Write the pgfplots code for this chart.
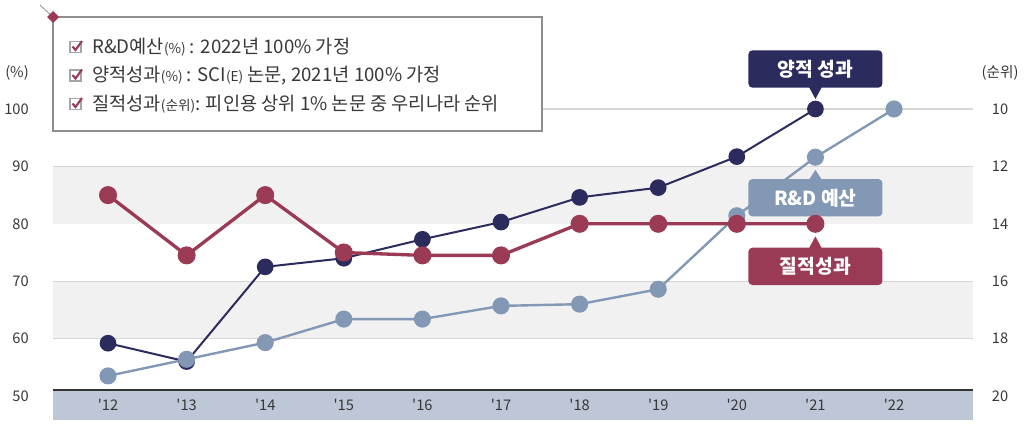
\documentclass[border=0pt]{standalone}
\usepackage{fontspec}
\setmainfont{Noto Sans CJK KR}
\usepackage{pgfplots}
\pgfplotsset{compat=1.18}

\definecolor{navy}{HTML}{2C2B5E}
\definecolor{steel}{HTML}{8398B4}
\definecolor{crim}{HTML}{9B3A55}
\definecolor{bandc}{HTML}{F1F1F1}
\definecolor{gridc}{HTML}{D6D6D6}
\definecolor{basec}{HTML}{BDC7D7}
\definecolor{txt}{HTML}{383838}
\definecolor{legc}{HTML}{8E8E8E}

\tikzset{
  callout/.style={
    minimum width=100.5pt, minimum height=28pt, inner sep=0pt,
    rounded corners=3pt, text=white,
    font=\fontsize{14.5}{16}\selectfont\bfseries,
  },
}

% common frame: plot area 53..973 px wide, 6..317 px from the bottom (1px = 0.75pt)
\pgfplotsset{
  frame/.style={
    at={(39.75pt,4.5pt)}, anchor=south west,
    scale only axis, width=690pt, height=233.25pt,
    xmin=11.3, xmax=23.005,
    clip=false,
    axis line style={draw=none},
    tick style={draw=none},
    tick label style={font=\fontsize{11}{13}\selectfont, text=txt},
    /pgf/number format/assume math mode=true,
  },
}

\begin{document}
\begin{tikzpicture}
\useasboundingbox (0pt,0pt) rectangle (768pt,319.5pt);

% ---- left axis: R&D budget and quantitative output (%)
\begin{axis}[frame, axis on top,
    ymin=45.82, ymax=100,
    ytick={50,60,...,100}, ytick pos=left,
    yticklabel style={anchor=east, inner sep=0pt, xshift=-18pt},
    xtick={12,...,22}, xtick pos=bottom,
    xticklabels={\textquotesingle12,\textquotesingle13,\textquotesingle14,\textquotesingle15,\textquotesingle16,\textquotesingle17,\textquotesingle18,\textquotesingle19,\textquotesingle20,\textquotesingle21,\textquotesingle22},
    xticklabel style={anchor=center, yshift=11.25pt},
]
  % background bands and grid
  \fill[bandc] (axis cs:11.3,80) rectangle (axis cs:23.005,90);
  \fill[bandc] (axis cs:11.3,60) rectangle (axis cs:23.005,70);
  \draw[gridc, line width=0.8pt] (axis cs:11.3,100) -- (axis cs:23.005,100);
  \draw[gridc, line width=0.8pt] (axis cs:11.3,90) -- (axis cs:23.005,90);
  \draw[gridc, line width=0.8pt] (axis cs:11.3,70) -- (axis cs:23.005,70);
  \draw[gridc, line width=0.8pt] (axis cs:11.3,60) -- (axis cs:23.005,60);
  \fill[basec] (axis cs:11.3,45.82) rectangle (axis cs:23.005,51.05);
  \draw[black!80, line width=1.5pt] (axis cs:11.3,51.05) -- (axis cs:23.005,51.05);

  % 양적 성과
  \addplot[navy, line width=1.5pt, mark=*, mark size=5.5pt] coordinates {
    (12,59.2) (13,56.0) (14,72.5) (15,74.0) (16,77.3)
    (17,80.3) (18,84.6) (19,86.3) (20,91.7) (21,100)
  };
  % R&D 예산
  \addplot[steel, line width=1.8pt, mark=*, mark size=5.5pt] coordinates {
    (12,53.5) (13,56.4) (14,59.3) (15,63.4) (16,63.4) (17,65.7)
    (18,66.0) (19,68.6) (20,81.4) (21,91.6) (22,100)
  };

  \node[callout, fill=navy, yshift=30pt] (q) at (axis cs:21,100) {양적 성과};
  \fill[navy] ([xshift=-5pt,yshift=1pt]q.south) -- ([yshift=-8.25pt]q.south) -- ([xshift=5pt,yshift=1pt]q.south) -- cycle;
  \node[callout, fill=steel, yshift=-30.4pt] (r) at (axis cs:21,91.6) {R\&D 예산};
  \fill[steel] ([xshift=-5pt,yshift=-1pt]r.north) -- ([yshift=6.75pt]r.north) -- ([xshift=5pt,yshift=-1pt]r.north) -- cycle;
\end{axis}

% ---- right axis: rank (reversed)
\begin{axis}[frame,
    y dir=reverse,
    ymin=10, ymax=20.836,
    ytick={10,12,...,20}, ytick pos=right,
    yticklabel style={anchor=center, xshift=20.25pt},
    xtick=\empty,
]
  % 질적성과
  \addplot[crim, line width=2.5pt, mark=*, mark size=5.5pt] coordinates {
    (12,13) (13,15.1) (14,13) (15,15) (16,15.1)
    (17,15.1) (18,14) (19,14) (20,14) (21,14)
  };
  \node[callout, fill=crim, yshift=-31.9pt] (c) at (axis cs:21,14) {질적성과};
  \fill[crim] ([xshift=-5pt,yshift=-1pt]c.north) -- ([yshift=8.25pt]c.north) -- ([xshift=5pt,yshift=-1pt]c.north) -- cycle;
\end{axis}

\begin{scope}[x=0.75pt,y=0.75pt]
% unit labels
\node[font=\fontsize{11}{13}\selectfont, text=txt] at (17,353) {(\%)};
\node[font=\fontsize{11}{13}\selectfont, text=txt] at (1000,353) {(순위)};

% legend box
\draw[legc, line width=0.6pt] (40,421) -- (53,409);
\draw[legc, line width=1.2pt, fill=white] (53,409) rectangle (542,295);
\fill[crim] (53,415) -- (59,409) -- (53,403) -- (47,409) -- cycle;

\foreach \c in {379,350.5,322} {
  \draw[gray!70, line width=0.8pt] (70,\c-5.5) rectangle (81,\c+5.5);
  \draw[crim, line width=1.6pt] (72.5,\c+0.5) -- (75.5,\c-3) -- (82,\c+6);
}
\begin{scope}[every node/.style={anchor=west, inner sep=0pt, text=txt, font=\fontsize{14}{16}\selectfont}]
  \node at (92,379) {R\&D예산{\fontsize{10.2}{12}\selectfont(\%)} : 2022년 100\% 가정};
  \node at (92,350.5) {양적성과{\fontsize{10.2}{12}\selectfont(\%)} : SCI{\fontsize{10.2}{12}\selectfont(E)} 논문, 2021년 100\% 가정};
  \node at (92,322) {질적성과{\fontsize{10.2}{12}\selectfont(순위)}: 피인용 상위 1\% 논문 중 우리나라 순위};
\end{scope}
\end{scope}
\end{tikzpicture}
\end{document}
